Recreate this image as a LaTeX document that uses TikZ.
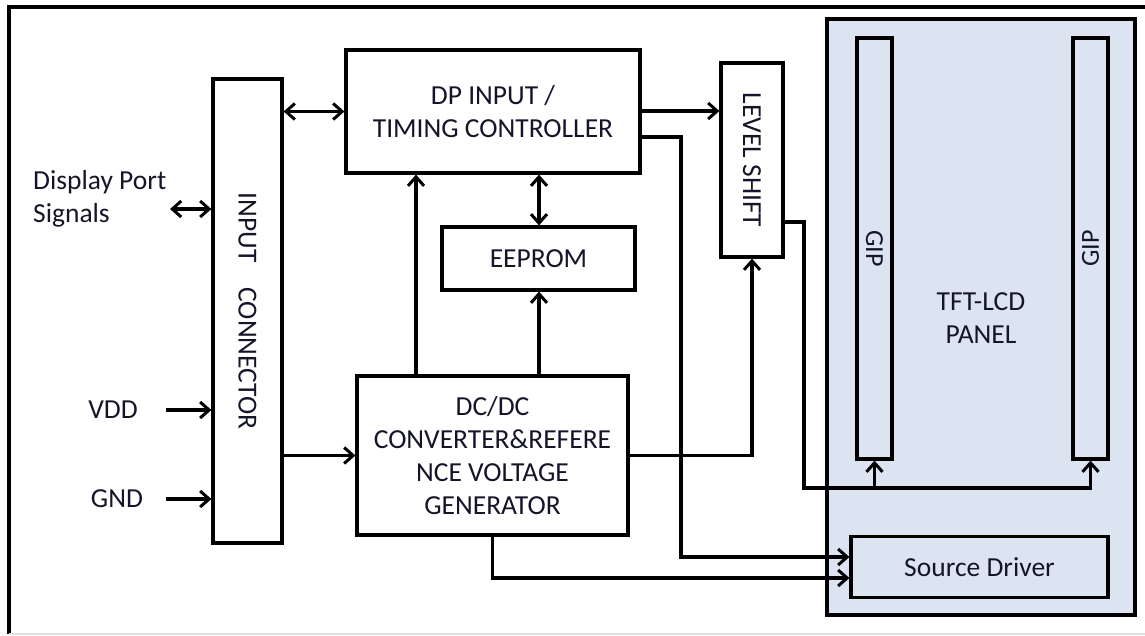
\documentclass[tikz,border=0pt]{standalone}
\usepackage{fontspec}
\setmainfont{Carlito}
\usetikzlibrary{arrows.meta}
\definecolor{panelfill}{HTML}{DBE4F0}
\definecolor{txt}{HTML}{15152A}
\begin{document}
\begin{tikzpicture}[x=1pt,y=-1pt,
  every node/.style={text=txt,font=\fontsize{27.5}{33}\selectfont},
  blk/.style={draw=black,line width=3.2pt,fill=white,inner sep=0pt,align=center},
  pnl/.style={blk,fill=panelfill},
  lbl/.style={inner sep=0pt,align=left},
  wire/.style={line width=3.2pt,draw=black},
  tip/.style={wire,-{Straight Barb[length=9pt,width=16pt,line width=3pt]}},
  btip/.style={wire,{Straight Barb[length=9pt,width=16pt,line width=3pt]}-{Straight Barb[length=9pt,width=16pt,line width=3pt]}}
]
\useasboundingbox (0,0) rectangle (1145,635);
% outer frame
\draw[line width=3.2pt] (9,634) -- (9,7) -- (1145,7);
\draw[line width=1.5pt,black!12] (9,634) -- (1145,634);

% panel
\node[pnl,minimum width=308,minimum height=596] (panel) at (981,317) {};
\node[pnl,minimum width=35,minimum height=421] (gipL) at (874.5,248.5) {};
\node[rotate=-90,font=\fontsize{26}{30}\selectfont] (gipLt) at (gipL) {GIP};
\node[pnl,minimum width=35,minimum height=421] (gipR) at (1090.5,248.5) {};
\node[rotate=90,font=\fontsize{26}{30}\selectfont] (gipRt) at (gipR) {GIP};
\node[align=center,inner sep=0pt] (tft) at (981,318) {TFT-LCD\\PANEL};
\node[pnl,minimum width=257,minimum height=61] (sd) at (979.5,567) {Source Driver};

% blocks
\node[blk,minimum width=69,minimum height=464] (conn) at (247.5,311) {};
\node[rotate=-90] (connt) at (conn) {INPUT\hspace{0.9em}CONNECTOR};
\node[blk,minimum width=294,minimum height=123] (tcon) at (493,111.5) {DP INPUT /\\TIMING CONTROLLER};
\node[blk,minimum width=193,minimum height=63] (eeprom) at (538.5,258.5) {EEPROM};
\node[blk,minimum width=271,minimum height=159] (dcdc) at (492.5,455.5) {DC/DC\\CONVERTER\&REFERE\\NCE VOLTAGE\\GENERATOR};
\node[blk,minimum width=62,minimum height=194] (ls) at (752,160) {};
\node[rotate=-90] (lst) at (ls) {LEVEL SHIFT};

% labels
\node[lbl,anchor=west] (dps) at (33,199) {Display Port\\Signals};
\node (vdd) at (113,410) {VDD};
\node (gnd) at (117,499) {GND};

% guide coordinates
\coordinate (dpsA) at (170,209);
\coordinate (vddA) at (166,410);
\coordinate (gndA) at (166,499);
\coordinate (xa) at (416,0);
\coordinate (xb) at (539,0);
\coordinate (xc) at (681,0);
\coordinate (xe) at (804,0);
\coordinate (ya) at (0,111);
\coordinate (yb) at (0,137);
\coordinate (yc) at (0,488);
\coordinate (yd) at (0,557);
\coordinate (ye) at (0,578);
\coordinate (yf) at (0,222);

% connectors
\draw[btip] (dpsA) -- (dpsA -| conn.west);
\draw[tip] (vddA) -- (vddA -| conn.west);
\draw[tip] (gndA) -- (gndA -| conn.west);
\draw[btip] (conn.east |- tcon.west) -- (tcon.west);
\draw[tip] (conn.east |- dcdc.west) -- (dcdc.west);
\draw[tip] (dcdc.north -| xa) -- (tcon.south -| xa);
\draw[tip] (dcdc.north -| xb) -- (eeprom.south -| xb);
\draw[btip] (tcon.south -| xb) -- (eeprom.north -| xb);
\draw[tip] (tcon.east |- ya) -- (ls.west |- ya);
\draw[tip] (tcon.east |- yb) -| (xc |- yd) -- (sd.west |- yd);
\draw[tip] (dcdc.east) -| (ls.south);
\draw[tip] (dcdc.south) |- (sd.west |- ye);
\draw[tip] (ls.east |- yf) -| (xe |- yc) -| (gipR.south);
\draw[tip] (gipL.south |- yc) -- (gipL.south);
\end{tikzpicture}
\end{document}
